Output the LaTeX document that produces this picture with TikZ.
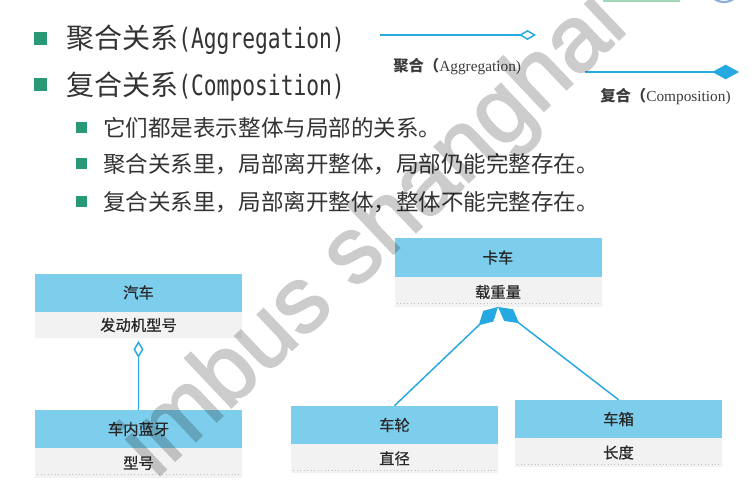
\documentclass[tikz,border=0pt]{standalone}
\usepackage{fontspec}
\usepackage{graphicx}
\usetikzlibrary{arrows.meta}
\setmainfont{Liberation Serif}
\newfontfamily\cjk{Noto Sans CJK SC}
\newfontfamily\cjkbox{Noto Sans CJK SC}[FakeBold=0.6]
\newfontfamily\monof{DejaVu Sans Mono}
\newfontfamily\wmfont{Liberation Sans}[FakeBold=2]
% half-width Latin run set in a condensed monospace
\newcommand\halfw[1]{\scalebox{0.76}[1]{\monof #1}}

\definecolor{headblue}{RGB}{125,206,237}
\definecolor{attrgray}{RGB}{242,242,242}
\definecolor{lineblue}{RGB}{38,168,224}
\definecolor{bulletgreen}{RGB}{40,152,118}
\definecolor{textgray}{RGB}{51,51,51}
\definecolor{boxtext}{RGB}{40,40,40}
\definecolor{legendgray}{RGB}{60,60,60}
\definecolor{palegreen}{RGB}{160,215,185}
\definecolor{logoblue}{RGB}{140,175,215}

\begin{document}
\begin{tikzpicture}[x=0.75pt,y=-0.75pt,
  bulletA/.style={fill=bulletgreen, minimum size=9.75pt, inner sep=0pt},
  bulletB/.style={fill=bulletgreen, minimum size=8.25pt, inner sep=0pt},
  maintext/.style={anchor=west, inner sep=0pt, text=textgray,
    font=\cjk\fontsize{21pt}{25pt}\selectfont},
  subtext/.style={anchor=west, inner sep=0pt, text=textgray,
    font=\cjk\fontsize{16.9pt}{20pt}\selectfont},
  legend/.style={anchor=west, inner sep=0pt, text=legendgray,
    font=\fontsize{11.5pt}{13pt}\selectfont},
  head/.style={fill=headblue, inner sep=0pt, minimum width=155.25pt,
    minimum height=28.5pt, text=boxtext,
    font=\cjkbox\fontsize{11.5pt}{13pt}\selectfont},
  attr/.style={fill=attrgray, inner sep=0pt, minimum width=155.25pt,
    minimum height=22pt, text=boxtext,
    font=\cjkbox\fontsize{11.5pt}{13pt}\selectfont},
  dotline/.style={draw=black!25, dotted, line width=0.6pt},
  agg/.style={draw=lineblue, line width=1.1pt,
    -{Diamond[fill=white, length=12.75pt, width=7.5pt]}},
  comp/.style={draw=lineblue, line width=1.1pt,
    -{Diamond[fill=lineblue, length=20pt, width=11pt]}},
  watermark/.style={inner sep=0pt, text=black,
    font=\wmfont\fontsize{70pt}{70pt}\selectfont}
]
\useasboundingbox (0,0) rectangle (756,488);
\fill[white] (0,0) rectangle (756,488);

% fragments of the page header
\draw[palegreen, line width=1.2pt] (603,0.8) -- (680,0.8);
\begin{scope}
  \clip (0,0) rectangle (756,488);
  \draw[logoblue, line width=1.6pt] (724,-15) circle[radius=17];
\end{scope}

% headline bullets
\node[bulletA] (b1) at (40,39) {};
\node[maintext] (t1) at (66,40) {聚合关系\halfw{(Aggregation)}};
\node[bulletA] (b2) at (40,85) {};
\node[maintext] (t2) at (66,87) {复合关系\halfw{(Composition)}};

% sub bullets
\node[bulletB] (s1) at (81,128) {};
\node[subtext] (u1) at (103,128) {它们都是表示整体与局部的关系。};
\node[bulletB] (s2) at (81,164) {};
\node[subtext] (u2) at (103,164) {聚合关系里，局部离开整体，局部仍能完整存在。};
\node[bulletB] (s3) at (81,202) {};
\node[subtext] (u3) at (103,202) {复合关系里，局部离开整体，整体不能完整存在。};

% notation legend
\coordinate (agg-a) at (380,35);
\coordinate (agg-b) at (536,35);
\draw[agg] (agg-a) -- (agg-b);
\node[legend] (agg-label) at (393,67) {{\cjk\bfseries 聚合（}Aggregation)};
\coordinate (comp-a) at (585,72);
\coordinate (comp-b) at (739,72);
\draw[comp] (comp-a) -- (comp-b);
\node[legend] (comp-label) at (600,97) {{\cjk\bfseries 复合（}Composition)};

% aggregation example
\node[head] (car) at (138.5,292.5) {汽车};
\node[attr, minimum height=19.5pt] (car-attr) at (138.5,325) {发动机型号};
\node[head] (bt) at (138.5,429) {车内蓝牙};
\node[attr] (bt-attr) at (138.5,463) {型号};
\draw[dotline] ([xshift=2pt,yshift=2.5pt]bt-attr.south west) -- ([xshift=-2pt,yshift=2.5pt]bt-attr.south east);
\draw[agg] (bt.north) -- ([yshift=-2pt]car-attr.south);

% composition example
\node[head] (truck) at (498,257.5) {卡车};
\node[attr] (truck-attr) at (498,292) {载重量};
\draw[dotline] ([xshift=2pt,yshift=2.5pt]truck-attr.south west) -- ([xshift=-2pt,yshift=2.5pt]truck-attr.south east);
\node[head] (wheel) at (394.5,425) {车轮};
\node[attr] (wheel-attr) at (394.5,458.5) {直径};
\draw[dotline] ([xshift=2pt,yshift=2.5pt]wheel-attr.south west) -- ([xshift=-2pt,yshift=2.5pt]wheel-attr.south east);
\node[head] (cargo) at (618.5,419) {车箱};
\node[attr] (cargo-attr) at (618.5,452.5) {长度};
\draw[dotline] ([xshift=2pt,yshift=2.5pt]cargo-attr.south west) -- ([xshift=-2pt,yshift=2.5pt]cargo-attr.south east);
\draw[comp] (wheel.north) -- (truck-attr.south);
\draw[comp] (cargo.north) -- (truck-attr.south);

% watermark, composited as one translucent layer
\begin{scope}[transparency group, opacity=0.2]
  \node[watermark, rotate=43.5] (wm) at (376,237) {imbus shanghai};
\end{scope}
\end{tikzpicture}
\end{document}
